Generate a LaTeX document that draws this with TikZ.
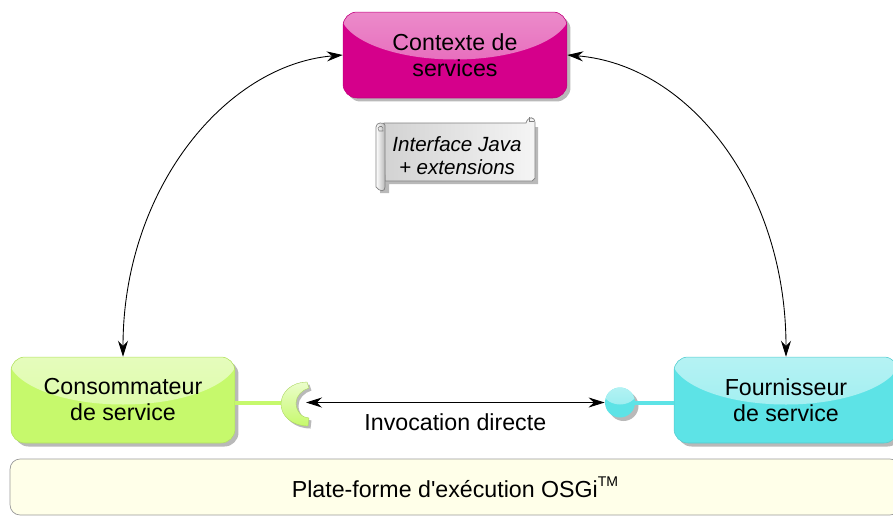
\documentclass[tikz,border=0pt]{standalone}
\usepackage{fontspec}
\setmainfont{Liberation Sans}
\newfontfamily\stripfont{Liberation Sans}
\usetikzlibrary{arrows.meta,shadows}
\definecolor{shadowgray}{HTML}{B9B9B9}
\definecolor{pinkbox}{HTML}{D5008B}
\definecolor{greenbox}{HTML}{C6F96C}
\definecolor{cyanbox}{HTML}{5DE3E6}
\definecolor{creambox}{HTML}{FFFFE9}
\newcommand{\sockpath}{(307,382) .. controls (292,382) and (281,392) .. (281,404)
    .. controls (281,416) and (292,426) .. (308,426) -- (309,418)
    .. controls (302,418) and (296,411) .. (296,403)
    .. controls (296,396) and (302,390) .. (309,388) -- cycle}
\tikzset{
    glossbox/.style={rectangle, rounded corners=0.28cm, draw=#1!90!black, line width=0.3pt, fill=#1,
        minimum width=4.48cm, minimum height=1.72cm, align=center, inner sep=0pt,
        font=\fontsize{13.2}{14.8}\selectfont,
        drop shadow={shadow xshift=0.07cm, shadow yshift=-0.07cm, fill=shadowgray, opacity=1},
        path picture={\shade[top color=#1!35!white, bottom color=#1!65!white]
            (path picture bounding box.north) ellipse [x radius=2.3cm, y radius=0.95cm];}},
    link/.style={{Stealth[length=0.32cm,width=0.2cm]}-{Stealth[length=0.32cm,width=0.2cm]}, line width=0.5pt},
    stem/.style={line width=2.3pt, line cap=butt}
}
\begin{document}
\begin{tikzpicture}[x=0.02cm, y=-0.02cm]
    \useasboundingbox (0,0) rectangle (893,515);
    % the three parties
    \node[glossbox=pinkbox] (context) at (455,55) {Contexte de\\services};
    \node[glossbox=greenbox] (conso) at (123,400) {Consommateur\\de service};
    \node[glossbox=cyanbox] (fourn) at (786,400) {Fournisseur\\de service};
    % bottom strip
    \node[rectangle, rounded corners=0.2cm, draw=gray!80, line width=0.4pt, fill=creambox,
        minimum width=17.8cm, minimum height=1.12cm, font=\fontsize{13.2}{15}\selectfont\stripfont] (osgi) at (455,487)
        {Plate-forme d'exécution OSGi\raisebox{0.9ex}{\fontsize{8}{8}\selectfont TM}};
    % scroll
    \fill[shadowgray] (389,127) -- (538,127) -- (538,184) -- (389,184) -- (389,193) -- (380,193) -- (380,127) -- cycle;
    \shade[draw=gray, line width=0.4pt, left color=gray!35, right color=gray!8] (384,123) -- (526,123)
        .. controls (528,116) and (535,116) .. (535,123) -- (535,178) -- (532,181) -- (385,181) -- cycle;
    \shade[draw=gray, line width=0.4pt, left color=white, right color=gray!55] (376,127)
        .. controls (376,122) and (384,122) .. (385,125) -- (385,187)
        .. controls (385,192) and (380,192) .. (376,187) -- cycle;
    \draw[gray, line width=0.3pt] (378,128) .. controls (380,125) and (384,126) .. (383,131) -- (379,131) -- cycle;
    \draw[gray, line width=0.3pt] (529,121) -- (529,117) (529,121) -- (534,121);
    \node[align=center, inner sep=0pt, font=\fontsize{11.7}{13.2}\selectfont\itshape] (iface) at (457,156)
        {Interface Java\\+ extensions};
    % socket on the consumer side
    \coordinate (sockback) at (282,403);
    \coordinate (socktip) at (306,402.5);
    \draw[stem, greenbox] (conso.east|-sockback) -- (sockback);
    \fill[shadowgray, xshift=0.05cm, yshift=-0.05cm] \sockpath;
    \shade[top color=greenbox!35!white, bottom color=greenbox, draw=greenbox!85!black, line width=0.2pt] \sockpath;
    % ball on the provider side
    \node[circle, minimum size=0.6cm, inner sep=0pt, fill=cyanbox,
        drop shadow={shadow xshift=0.07cm, shadow yshift=-0.07cm, fill=shadowgray, opacity=1},
        path picture={\shade[top color=cyanbox!35!white, bottom color=cyanbox!70!white]
            (path picture bounding box.north) ellipse [x radius=0.38cm, y radius=0.34cm];}] (ball) at (620,402.5) {};
    \draw[stem, cyanbox] (ball.east|-0,403) -- (fourn.west|-0,403);
    % connectors
    \draw[link] (context.west) .. controls (225,65) and (123,190) .. (conso.north);
    \draw[link] (context.east) .. controls (690,65) and (786,190) .. (fourn.north);
    \draw[link] (socktip) -- node[below=2.5pt, font=\fontsize{13.2}{15}\selectfont] {Invocation directe} (ball.west);
\end{tikzpicture}
\end{document}
